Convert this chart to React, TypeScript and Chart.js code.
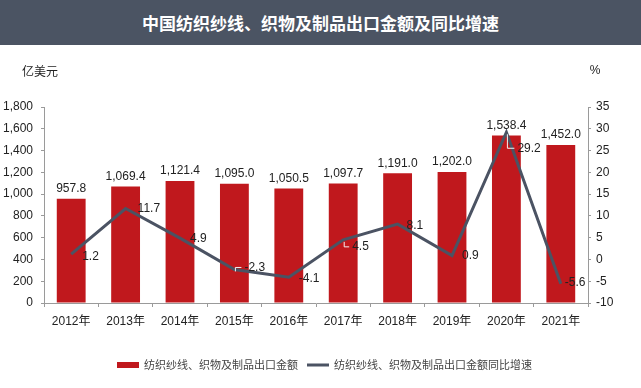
import React, { useEffect, useRef } from "react";
import { Chart, registerables } from "chart.js";

Chart.register(...registerables);

const titleText = "中国纺织纱线、织物及制品出口金额及同比增速";
const leftUnit = "亿美元";
const rightUnit = "%";
const categories = ["2012年", "2013年", "2014年", "2015年", "2016年", "2017年", "2018年", "2019年", "2020年", "2021年"];
const exportValues = [957.8, 1069.4, 1121.4, 1095.0, 1050.5, 1097.7, 1191.0, 1202.0, 1538.4, 1452.0];
const growthRates = [1.2, 11.7, 4.9, -2.3, -4.1, 4.5, 8.1, 0.9, 29.2, -5.6];
const barSeriesName = "纺织纱线、织物及制品出口金额";
const lineSeriesName = "纺织纱线、织物及制品出口金额同比增速";

const FONT = '"Liberation Sans", Arial, "Noto Sans CJK SC", sans-serif';
const CJK_FONT = '"Noto Sans CJK SC", "Liberation Sans", sans-serif';
const BAR_COLOR = "#c0181d";
const LINE_COLOR = "#4b5363";
const TEXT_COLOR = "#222222";
const AXIS_COLOR = "#9a9a9a";

// label placement offsets for the growth-rate labels (dx from point, dy from point, leader)
const lineLabelOffsets: [number, number, boolean][] = [
  [11, 2, false],
  [12, 0, false],
  [10, 1, false],
  [10, -2, true],
  [10, 1, false],
  [9, 7, true],
  [9, 2, false],
  [10, 0, false],
  [11, 16, true],
  [4, -1, false],
];

const fmtBar = (v: number) =>
  v.toLocaleString("en-US", { minimumFractionDigits: 1, maximumFractionDigits: 1 });

const overlayPlugin = {
  id: "overlay",
  afterDatasetsDraw(chart: any) {
    const ctx = chart.ctx;
    ctx.save();
    const barMeta = chart.getDatasetMeta(0);
    ctx.font = `12px ${FONT}`;
    ctx.fillStyle = TEXT_COLOR;
    ctx.textAlign = "center";
    ctx.textBaseline = "bottom";
    barMeta.data.forEach((el: any, i: number) => {
      ctx.fillText(fmtBar(exportValues[i]), el.x, el.y - 4);
    });
    const lineMeta = chart.getDatasetMeta(1);
    ctx.textAlign = "left";
    ctx.textBaseline = "middle";
    lineMeta.data.forEach((el: any, i: number) => {
      const [dx, dy, leader] = lineLabelOffsets[i];
      const tx = el.x + dx;
      const ty = el.y + dy;
      if (leader) {
        ctx.strokeStyle = "#f3f3f3";
        ctx.lineWidth = 1;
        ctx.beginPath();
        ctx.moveTo(el.x + 1, el.y + 2);
        ctx.lineTo(el.x + 1, ty);
        ctx.lineTo(tx - 3, ty);
        ctx.stroke();
      }
      ctx.fillStyle = TEXT_COLOR;
      ctx.fillText(growthRates[i].toFixed(1), tx, ty);
    });
    ctx.restore();
  },
  afterDraw(chart: any) {
    const ctx = chart.ctx;
    const area = chart.chartArea;
    ctx.save();
    ctx.font = `12px ${CJK_FONT}`;
    ctx.fillStyle = TEXT_COLOR;
    ctx.textBaseline = "middle";
    ctx.textAlign = "left";
    ctx.fillText(leftUnit, 22, 71);
    ctx.textAlign = "center";
    ctx.font = `12px ${FONT}`;
    ctx.fillText(rightUnit, area.right + 7, 71);

    // legend
    ctx.font = `11px ${CJK_FONT}`;
    const w1 = ctx.measureText(barSeriesName).width;
    const w2 = ctx.measureText(lineSeriesName).width;
    const sw = 22;
    const gap = 5;
    const between = 9;
    const total = sw + gap + w1 + between + sw + gap + w2;
    let x = 324.5 - total / 2;
    const y = 365;
    ctx.fillStyle = BAR_COLOR;
    ctx.fillRect(x, y - 3, sw, 6);
    x += sw + gap;
    ctx.fillStyle = "#444";
    ctx.textAlign = "left";
    ctx.fillText(barSeriesName, x, y);
    x += w1 + between;
    ctx.strokeStyle = LINE_COLOR;
    ctx.lineWidth = 3;
    ctx.beginPath();
    ctx.moveTo(x, y);
    ctx.lineTo(x + sw, y);
    ctx.stroke();
    x += sw + gap;
    ctx.fillText(lineSeriesName, x, y);
    ctx.restore();
  },
};

export default function App() {
  const canvasRef = useRef<HTMLCanvasElement | null>(null);

  useEffect(() => {
    document.body.style.margin = "0";
    const canvas = canvasRef.current;
    if (!canvas) return;
    const chart = new Chart(canvas, {
      type: "bar",
      data: {
        labels: categories,
        datasets: [
          {
            type: "bar",
            label: barSeriesName,
            data: exportValues,
            backgroundColor: BAR_COLOR,
            yAxisID: "y",
            barPercentage: 0.53,
            categoryPercentage: 1,
            order: 1,
          },
          {
            type: "line",
            label: lineSeriesName,
            data: growthRates,
            borderColor: LINE_COLOR,
            backgroundColor: LINE_COLOR,
            borderWidth: 3,
            pointRadius: 0,
            tension: 0,
            yAxisID: "y1",
            order: 0,
          },
        ],
      },
      options: {
        responsive: false,
        animation: false,
        layout: { padding: { top: 107, left: 0, right: 0, bottom: 0 } },
        plugins: {
          legend: { display: false },
          title: { display: false },
          tooltip: { enabled: false },
        },
        scales: {
          x: {
            offset: true,
            grid: {
              offset: true,
              drawOnChartArea: false,
              drawTicks: true,
              tickLength: 4,
              color: AXIS_COLOR,
            },
            border: { display: true, color: AXIS_COLOR },
            ticks: {
              color: TEXT_COLOR,
              font: { family: FONT, size: 12 },
              padding: 7,
              maxRotation: 0,
              autoSkip: false,
            },
            afterFit: (scale: any) => {
              scale.height = 85;
            },
          },
          y: {
            position: "left",
            min: 0,
            max: 1800,
            grid: {
              drawOnChartArea: false,
              drawTicks: true,
              tickLength: 3,
              color: AXIS_COLOR,
            },
            border: { display: true, color: AXIS_COLOR },
            ticks: {
              stepSize: 200,
              color: TEXT_COLOR,
              font: { family: FONT, size: 12 },
              padding: 8,
              callback: (v: any) => Number(v).toLocaleString("en-US"),
            },
            afterFit: (scale: any) => {
              scale.width = 44;
            },
          },
          y1: {
            position: "right",
            min: -10,
            max: 35,
            grid: {
              drawOnChartArea: false,
              drawTicks: true,
              tickLength: 3,
              color: AXIS_COLOR,
            },
            border: { display: true, color: AXIS_COLOR },
            ticks: {
              stepSize: 5,
              color: TEXT_COLOR,
              font: { family: FONT, size: 12 },
              padding: 5,
            },
            afterFit: (scale: any) => {
              scale.width = 53;
            },
          },
        },
      },
      plugins: [overlayPlugin],
    });
    return () => chart.destroy();
  }, []);

  return (
    <div style={{ position: "relative", width: 641, height: 388, background: "#ffffff", overflow: "hidden" }}>
      <div
        style={{
          position: "absolute",
          left: 0,
          top: 0,
          width: 641,
          height: 45,
          background: "#4b5463",
          color: "#ffffff",
          fontFamily: CJK_FONT,
          fontWeight: 700,
          fontSize: 17,
          lineHeight: "45px",
          textAlign: "center",
        }}
      >
        {titleText}
      </div>
      <canvas ref={canvasRef} width={641} height={388} style={{ position: "absolute", left: 0, top: 0 }} />
    </div>
  );
}
